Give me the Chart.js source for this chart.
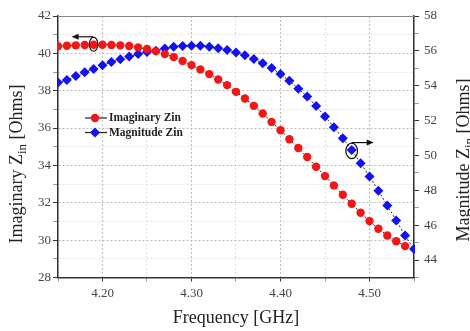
<!DOCTYPE html>
<html>
<head>
<meta charset="utf-8">
<script src="https://cdn.jsdelivr.net/npm/chart.js@4.4.0/dist/chart.umd.min.js"></script>
<style>
html, body { margin: 0; padding: 0; background: #fff; }
</style>
</head>
<body>
<canvas id="chart" width="470" height="331"></canvas>
<script>
// frequency points in GHz
const frequency = [
    4.15, 4.16, 4.17, 4.18, 4.19, 4.20, 4.21, 4.22, 4.23, 4.24,
    4.25, 4.26, 4.27, 4.28, 4.29, 4.30, 4.31, 4.32, 4.33, 4.34,
    4.35, 4.36, 4.37, 4.38, 4.39, 4.40, 4.41, 4.42, 4.43, 4.44,
    4.45, 4.46, 4.47, 4.48, 4.49, 4.50, 4.51, 4.52, 4.53, 4.54,
    4.55
];
// Imaginary Zin, left axis (ends at 4.54)
const imaginaryZin = [
    40.38, 40.41, 40.43, 40.45, 40.46, 40.46, 40.45, 40.43, 40.39, 40.32,
    40.23, 40.12, 39.96, 39.80, 39.59, 39.37, 39.14, 38.89, 38.60, 38.30,
    37.94, 37.58, 37.19, 36.78, 36.33, 35.88, 35.40, 34.93, 34.45, 33.93,
    33.43, 32.93, 32.43, 31.95, 31.47, 31.02, 30.61, 30.25, 29.94, 29.68
];
// Magnitude Zin, right axis
const magnitudeZin = [
    54.18, 54.33, 54.56, 54.77, 54.96, 55.17, 55.36, 55.52, 55.67, 55.82,
    55.94, 56.01, 56.13, 56.23, 56.28, 56.30, 56.30, 56.24, 56.15, 56.05,
    55.90, 55.75, 55.54, 55.29, 55.02, 54.67, 54.28, 53.83, 53.38, 52.84,
    52.23, 51.62, 50.99, 50.32, 49.56, 48.79, 47.97, 47.13, 46.27, 45.41,
    44.63
];
const seriesLabels = ['Imaginary Zin', 'Magnitude Zin'];
const leftTitle = ['Imaginary Z', 'in', ' [Ohms]'];
const rightTitle = ['Magnitude Z', 'in', ' [Ohms]'];
const xTitle = 'Frequency [GHz]';

const SERIF = "'Liberation Serif', 'Times New Roman', serif";
const MAJOR_GRID = '#bcbcbc';
const MINOR_GRID = '#e0e0e0';
const AXIS = '#333';
const MINOR_TICK = '#9a9a9a';

function isMajorX(v) { return Math.round(v * 100) % 10 === 0; }
function isMajorY(v) { return Math.round(v) % 2 === 0; }

// rotated axis title with a subscript part
function drawRotatedTitle(ctx, cx, cy, parts) {
    const mainFont = '18px ' + SERIF;
    const subFont = '13px ' + SERIF;
    ctx.save();
    ctx.translate(cx, cy);
    ctx.rotate(-Math.PI / 2);
    ctx.fillStyle = '#222';
    ctx.textBaseline = 'alphabetic';
    ctx.font = mainFont;
    let w0 = ctx.measureText(parts[0]).width;
    let w2 = ctx.measureText(parts[2]).width;
    ctx.font = subFont;
    let w1 = ctx.measureText(parts[1]).width;
    let x = -(w0 + w1 + w2) / 2;
    ctx.font = mainFont;
    ctx.fillText(parts[0], x, 0);
    x += w0;
    ctx.font = subFont;
    ctx.fillText(parts[1], x, 4);
    x += w1;
    ctx.font = mainFont;
    ctx.fillText(parts[2], x, 0);
    ctx.restore();
}

function drawPointer(ctx, cx, cy, rx, ry, dir) {
    ctx.save();
    ctx.strokeStyle = '#111';
    ctx.fillStyle = '#111';
    ctx.lineWidth = 1.2;
    ctx.beginPath();
    ctx.ellipse(cx, cy, rx, ry, 0, 0, 2 * Math.PI);
    ctx.stroke();
    let ay = cy - ry - 0.5;
    let ex = cx + dir * 22;
    ctx.beginPath();
    ctx.moveTo(cx, ay);
    ctx.lineTo(ex - dir * 5, ay);
    ctx.stroke();
    ctx.beginPath();
    ctx.moveTo(ex, ay);
    ctx.lineTo(ex - dir * 7, ay - 3);
    ctx.lineTo(ex - dir * 7, ay + 3);
    ctx.closePath();
    ctx.fill();
    ctx.restore();
}

const decorations = {
    id: 'decorations',
    afterDatasetsDraw(chart) {
        const {ctx, chartArea, scales} = chart;
        // top frame line
        ctx.save();
        ctx.strokeStyle = '#888';
        ctx.lineWidth = 1;
        ctx.beginPath();
        ctx.moveTo(chartArea.left, chartArea.top + 0.5);
        ctx.lineTo(chartArea.right, chartArea.top + 0.5);
        ctx.stroke();
        ctx.restore();

        // arrows pointing at the axis each curve belongs to
        drawPointer(ctx, scales.x.getPixelForValue(frequency[4]),
            scales.y.getPixelForValue(imaginaryZin[4]) - 0.5, 4.3, 7, -1);
        drawPointer(ctx, scales.x.getPixelForValue(frequency[33]),
            scales.y2.getPixelForValue(magnitudeZin[33]) + 1, 5.8, 7.8, 1);

        // legend inside the plot
        chart.data.datasets.forEach((ds, i) => {
            let y = chartArea.top + 102 + i * 14.5;
            let x0 = chartArea.left + 27;
            ctx.save();
            ctx.strokeStyle = '#222';
            ctx.lineWidth = 1.2;
            ctx.beginPath();
            ctx.moveTo(x0, y);
            ctx.lineTo(x0 + 22, y);
            ctx.stroke();
            ctx.fillStyle = ds.backgroundColor;
            Chart.helpers.drawPoint(ctx, {
                pointStyle: ds.pointStyle, radius: ds.pointRadius,
                rotation: 0, borderWidth: 0
            }, x0 + 10, y);
            ctx.fillStyle = '#222';
            ctx.font = 'bold 11.5px ' + SERIF;
            ctx.textBaseline = 'middle';
            ctx.fillText(ds.label, x0 + 24, y + 0.5);
            ctx.restore();
        });
    },
    afterDraw(chart) {
        drawRotatedTitle(chart.ctx, 22, 164, leftTitle);
        drawRotatedTitle(chart.ctx, 469, 160, rightTitle);
    }
};

const ctx = document.getElementById('chart').getContext('2d');
const chart = new Chart(ctx, {
    type: 'line',
    data: {
        datasets: [{
            label: seriesLabels[0],
            data: imaginaryZin.map((v, i) => ({x: frequency[i], y: v})),
            yAxisID: 'y',
            borderColor: '#222',
            borderWidth: 1,
            borderDash: [2, 2],
            backgroundColor: '#f21616',
            pointBackgroundColor: '#f21616',
            pointBorderWidth: 0,
            pointStyle: 'circle',
            pointRadius: 4.2,
            clip: 1
        }, {
            label: seriesLabels[1],
            data: magnitudeZin.map((v, i) => ({x: frequency[i], y: v})),
            yAxisID: 'y2',
            borderColor: '#222',
            borderWidth: 1,
            borderDash: [2, 2],
            backgroundColor: '#1212f0',
            pointBackgroundColor: '#1212f0',
            pointBorderWidth: 0,
            pointStyle: 'rectRot',
            pointRadius: 5,
            clip: 1
        }]
    },
    options: {
        responsive: false,
        animation: false,
        devicePixelRatio: 1,
        layout: {padding: {top: 16, left: 0, right: 0, bottom: 0}},
        plugins: {
            legend: {display: false},
            tooltip: {enabled: false}
        },
        scales: {
            x: {
                type: 'linear',
                min: 4.15,
                max: 4.55,
                afterFit(scale) { scale.height = 53.5; },
                ticks: {
                    stepSize: 0.05,
                    autoSkip: false,
                    maxRotation: 0,
                    padding: 4,
                    color: '#444',
                    font: {family: SERIF, size: 13},
                    callback: v => isMajorX(v) ? v.toFixed(2) : ''
                },
                grid: {
                    color: c => (c.tick && isMajorX(c.tick.value)) ? MAJOR_GRID : MINOR_GRID,
                    tickColor: c => (c.tick && isMajorX(c.tick.value)) ? AXIS : MINOR_TICK,
                    tickLength: 4,
                    lineWidth: 1
                },
                border: {color: AXIS, width: 1.5, dash: [2, 2]},
                title: {
                    display: true,
                    text: xTitle,
                    color: '#222',
                    font: {family: SERIF, size: 18},
                    padding: {top: 0, bottom: 2}
                }
            },
            y: {
                position: 'left',
                min: 28,
                max: 42,
                afterFit(scale) { scale.width = 58; },
                ticks: {
                    stepSize: 1,
                    autoSkip: false,
                    padding: 2,
                    color: '#444',
                    font: {family: SERIF, size: 13},
                    callback: v => isMajorY(v) ? v : ''
                },
                grid: {
                    color: c => (c.tick && isMajorY(c.tick.value)) ? MAJOR_GRID : MINOR_GRID,
                    tickColor: c => (c.tick && isMajorY(c.tick.value)) ? AXIS : MINOR_TICK,
                    tickLength: 5,
                    lineWidth: 1
                },
                border: {color: AXIS, width: 1.5, dash: [2, 2]}
            },
            y2: {
                position: 'right',
                min: 43,
                max: 58,
                afterFit(scale) { scale.width = 56; },
                ticks: {
                    stepSize: 1,
                    autoSkip: false,
                    padding: 5,
                    color: '#444',
                    font: {family: SERIF, size: 13},
                    callback: v => isMajorY(v) ? v : ''
                },
                grid: {
                    drawOnChartArea: false,
                    tickColor: c => (c.tick && isMajorY(c.tick.value)) ? AXIS : MINOR_TICK,
                    tickLength: 5
                },
                border: {color: AXIS, width: 1.5}
            }
        }
    },
    plugins: [decorations]
});
</script>
</body>
</html>
